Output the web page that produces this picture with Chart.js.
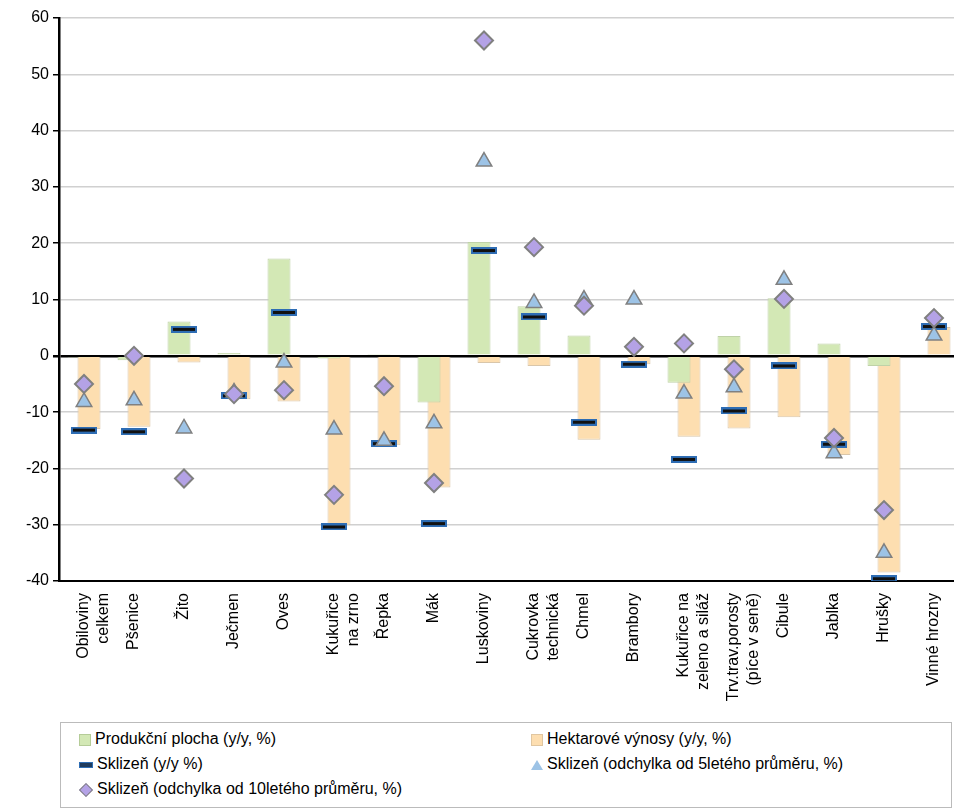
<!DOCTYPE html>
<html><head><meta charset="utf-8">
<script src="https://cdn.jsdelivr.net/npm/chart.js@4"></script>
<style>
body{margin:0;background:#fff;font-family:"Liberation Sans",Arial,sans-serif}
#wrap{position:relative;width:954px;height:720px;overflow:hidden}
#legend{position:absolute;left:60px;top:722px;width:892px;height:86px;border:1px solid #bbb;box-sizing:border-box;font-size:16px;color:#000}
.it{position:absolute;white-space:nowrap;line-height:20px}
.sw{display:inline-block;vertical-align:middle;margin-right:4px}
</style></head><body>
<div id="wrap"><canvas id="c" width="970" height="720"></canvas></div>
<div id="legend">
<div class="it" style="left:18px;top:6px"><span class="sw" style="width:10px;height:10px;background:#D3E8B5;border:1px solid #B5CC98"></span>Produkční plocha (y/y, %)</div>
<div class="it" style="left:470px;top:6px"><span class="sw" style="width:10px;height:10px;background:#FDDEB0;border:1px solid #E0C6A0"></span>Hektarové výnosy (y/y, %)</div>
<div class="it" style="left:18px;top:31px"><span class="sw" style="width:12px;height:4px;background:#1f3b5c;border:1px solid #2E6DB4"></span>Sklizeň (y/y %)</div>
<div class="it" style="left:470px;top:31px"><span class="sw" style="width:0;height:0;border-left:6px solid transparent;border-right:6px solid transparent;border-bottom:10px solid #9DC3E6"></span>Sklizeň (odchylka od 5letého průměru, %)</div>
<div class="it" style="left:18px;top:56px"><span class="sw" style="width:8px;height:8px;background:#B4A2E6;border:1px solid #808080;transform:rotate(45deg);margin-left:2px;margin-right:6px"></span>Sklizeň (odchylka od 10letého průměru, %)</div>
</div>
<script>
const categories = [["Obiloviny","celkem"],"Pšenice","Žito","Ječmen","Oves",["Kukuřice","na zrno"],"Řepka","Mák","Luskoviny",["Cukrovka","technická"],"Chmel","Brambory",["Kukuřice na","zeleno a siláž"],["Trv.trav.porosty","(píce v seně)"],"Cibule","Jablka","Hrušky","Vinné hrozny"];
const area = [-0.3,-0.8,6.1,0.5,17.3,-0.5,0.3,-8.3,20.2,8.8,3.6,0.2,-4.8,3.5,10.2,2.2,-1.8,0.2];
const yields = [-13,-12.6,-1.2,-7.7,-8.1,-30.1,-15.9,-23.4,-1.3,-1.8,-14.9,-1.5,-14.4,-12.9,-10.9,-17.6,-38.5,5.1];
const harvest = [-13.2,-13.5,4.7,-7.1,7.7,-30.4,-15.6,-29.8,18.7,6.9,-11.8,-1.5,-18.4,-9.8,-1.8,-15.7,-39.6,5.2];
const dev5 = [-8.2,-7.9,-12.9,-6.5,-1.2,-13.1,-15.1,-12.0,34.5,9.4,10.0,10.0,-6.7,-5.6,13.5,-17.3,-35.0,3.6];
const dev10 = [-5.0,0,-21.8,-6.8,-6.1,-24.7,-5.4,-22.6,56,19.3,8.9,1.6,2.2,-2.4,10.1,-14.6,-27.4,6.7];
const yTicks = [60,50,40,30,20,10,0,-10,-20,-30,-40];

const dash = document.createElement("canvas");
dash.width = 26; dash.height = 7;
const dc = dash.getContext("2d");
dc.fillStyle = "#2E6DB4"; dc.fillRect(0,0,26,7);
dc.fillStyle = "#111"; dc.fillRect(2,2,22,3);

Chart.defaults.font.family = '"Liberation Sans", Arial, sans-serif';
Chart.defaults.color = "#000";
new Chart(document.getElementById("c"), {
  data: {
    labels: categories,
    datasets: [
      {type:"bar",label:"Produkční plocha (y/y, %)",data:area,backgroundColor:"#D3E8B5",borderColor:"#BFD2A8",borderWidth:1,barPercentage:2.3,categoryPercentage:0.4,order:3},
      {type:"bar",label:"Hektarové výnosy (y/y, %)",data:yields,backgroundColor:"#FDDEB0",borderColor:"#D9C6AA",borderWidth:1,barPercentage:2.3,categoryPercentage:0.4,order:4},
      {type:"line",label:"Sklizeň (y/y %)",data:harvest,showLine:false,pointStyle:dash,order:2},
      {type:"line",label:"Sklizeň (odchylka od 5letého průměru, %)",data:dev5,showLine:false,pointStyle:"triangle",pointRadius:9,backgroundColor:"#9DC3E6",borderColor:"#808080",borderWidth:1.5,order:1},
      {type:"line",label:"Sklizeň (odchylka od 10letého průměru, %)",data:dev10,showLine:false,pointStyle:"rectRot",pointRadius:9,backgroundColor:"#B4A2E6",borderColor:"#808080",borderWidth:2,order:0}
    ]
  },
  options: {
    responsive:false, animation:false,
    layout:{padding:{top:18,left:0,right:0,bottom:0}},
    plugins:{legend:{display:false},tooltip:{enabled:false}},
    scales:{
      x:{grid:{display:false},border:{color:"#000",width:2},
        ticks:{font:{size:16},maxRotation:90,minRotation:90,autoSkip:false,padding:4},
        afterFit:s=>{s.height=139;}},
      y:{min:-40,max:60,
        afterBuildTicks:s=>{s.ticks=yTicks.map(v=>({value:v}));},
        grid:{color:c=>c.tick.value===0?"#000":"#D0D0D0",lineWidth:c=>c.tick.value===0?2.5:1.5,drawTicks:true,tickLength:6,tickColor:"#000"},
        border:{color:"#000",width:2.5},
        ticks:{font:{size:16},padding:4},
        afterFit:s=>{s.width=59;}}
    }
  }
});
</script></body></html>
